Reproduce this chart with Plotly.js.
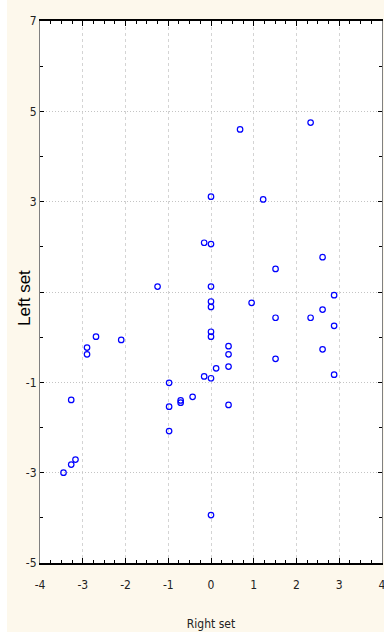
<!DOCTYPE html>
<html>
<head>
<meta charset="utf-8">
<script src="https://cdn.plot.ly/plotly-3.0.1.min.js"></script>
<style>
html,body{margin:0;padding:0;background:#ffffff;width:384px;height:637px;overflow:hidden;}
#chart{position:absolute;left:7px;top:0;width:377px;height:632px;}
</style>
</head>
<body>
<div id="chart"></div>
<script>
// Data
const rightSet = [-3.45,-3.27,-3.17,-3.27,-2.90,-2.90,-2.69,-2.10,-1.25,-0.98,-0.98,-0.98,-0.71,-0.71,-0.43,-0.16,-0.16,
  0,0,0,0,0,0,0,0,0,0.12,0.41,0.41,0.41,0.41,0.68,0.95,1.22,1.51,1.51,1.51,2.33,2.33,2.61,2.61,2.61,2.88,2.88,2.88];
const leftSet  = [-3.00,-2.82,-2.71,-1.39,-0.23,-0.38,0.01,-0.06,1.12,-1.01,-1.54,-2.08,-1.40,-1.45,-1.32,2.09,-0.87,
  3.11,2.06,1.12,0.79,0.67,0.12,0.01,-0.91,-3.94,-0.69,-0.20,-0.38,-0.65,-1.50,4.60,0.76,3.05,1.51,0.43,-0.48,4.75,0.43,1.77,0.61,-0.27,0.93,0.25,-0.83];
const xTickVals = [-4,-3,-2,-1,0,1,2,3,4];
const xTickText = ['-4','-3','-2','-1','0','1','2','3','4'];
const yTickVals = [-5,-3,-1,1,3,5,7];
const yTickText = ['-5','-3','-1','','3','5','7'];
const xTitle = 'Right set';
const yTitle = 'Left set';

const narrow = '"DejaVu Sans Condensed", "Liberation Sans Narrow", "Arial Narrow", sans-serif';

const trace = {
  x: rightSet, y: leftSet, type: 'scatter', mode: 'markers',
  marker: {symbol: 'circle-open', size: 5.5, color: '#0000ff', line: {width: 1.2, color: '#0000ff'}},
  hoverinfo: 'none', showlegend: false, cliponaxis: false
};

const layout = {
  width: 377, height: 632,
  margin: {l: 33, r: 2, t: 21, b: 69},
  paper_bgcolor: '#fdf8ec', plot_bgcolor: '#ffffff',
  showlegend: false,
  xaxis: {
    range: [-4, 4], tickmode: 'array', tickvals: xTickVals, ticktext: xTickText,
    ticks: 'inside', ticklen: 5, tickcolor: '#000', tickwidth: 1,
    showline: true, linecolor: '#000', linewidth: 2, mirror: 'ticks',
    showgrid: true, gridcolor: '#d4d4d4', griddash: '3px,3px', gridwidth: 1,
    zeroline: false, ticklabelstandoff: 10, ticklabeloverflow: 'allow',
    tickfont: {family: narrow, size: 12, color: '#222'},
    minor: {tickmode: 'linear', tick0: -4, dtick: 0.25, ticks: 'inside', ticklen: 3, tickcolor: '#000', showgrid: false},
    title: {text: xTitle, font: {family: narrow, size: 12, color: '#222'}, standoff: 28},
    automargin: false, fixedrange: true
  },
  yaxis: {
    range: [-5, 7], tickmode: 'array', tickvals: yTickVals, ticktext: yTickText,
    ticks: 'inside', ticklen: 4, tickcolor: '#000', tickwidth: 1,
    showline: true, linecolor: '#808080', linewidth: 1, mirror: 'ticks',
    showgrid: true, gridcolor: '#c4c4c4', griddash: '1px,2px', gridwidth: 1,
    zeroline: false, ticklabeloverflow: 'allow',
    tickfont: {family: narrow, size: 12, color: '#222'},
    minor: {tickmode: 'linear', tick0: -5, dtick: 1, ticks: 'inside', ticklen: 3, tickcolor: '#000', showgrid: false},
    automargin: false, fixedrange: true
  },
  annotations: [{
    text: yTitle, xref: 'paper', yref: 'paper', x: -0.044, y: 0.489,
    xanchor: 'center', yanchor: 'middle', textangle: -90, showarrow: false,
    font: {family: '"Liberation Sans", Arial, sans-serif', size: 17, color: '#000'}
  }]
};

Plotly.newPlot('chart', [trace], layout, {displayModeBar: false, staticPlot: true});
</script>
</body>
</html>
